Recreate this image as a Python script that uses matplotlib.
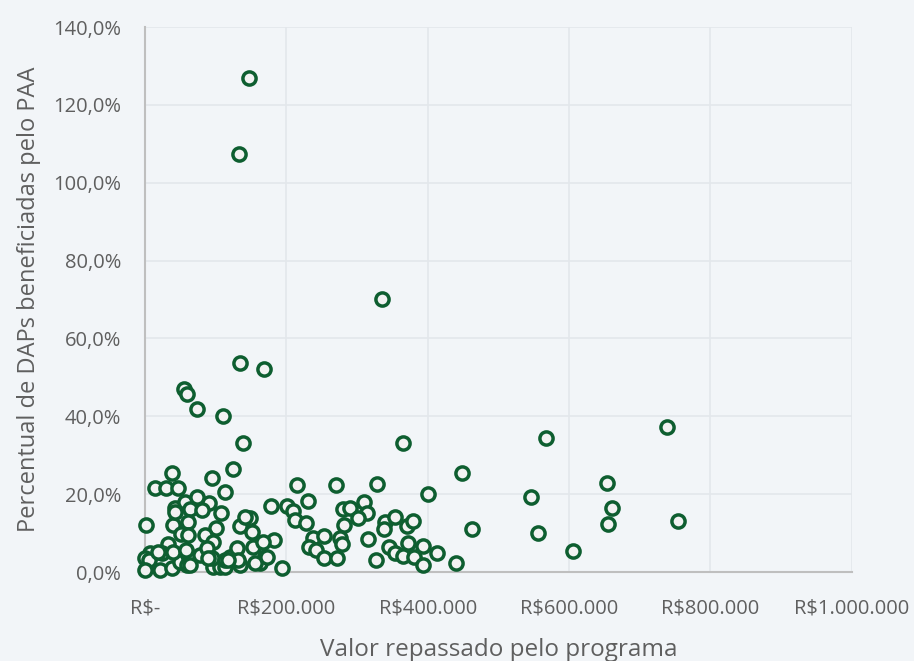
import matplotlib.pyplot as plt
from matplotlib.ticker import FuncFormatter

# valor repassado (R$ mil) e percentual de DAPs beneficiadas (%)
valor_mil = [
    147.1, 133.0, 335.2, 134.4, 168.3, 55.2, 59.4, 73.5, 110.3, 138.6,
    364.9, 567.2, 738.3, 124.5, 94.8, 38.2, 448.4, 14.1, 29.7, 46.7,
    653.5, 546.0, 400.3, 328.1, 270.2, 215.0, 178.2, 200.8, 209.3, 230.5,
    212.2, 227.7, 280.1, 290.0, 309.8, 314.0, 301.3, 281.5, 339.5, 353.6,
    338.0, 370.6, 379.1, 462.5, 182.5, 169.7, 162.7, 193.8, 237.6, 253.2,
    232.0, 241.9, 275.8, 278.6, 253.2, 271.6, 315.4, 326.7, 345.1, 353.6,
    364.9, 372.0, 380.5, 393.2, 393.2, 413.0, 439.9, 113.2, 1.4, 42.4,
    56.6, 73.5, 90.5, 63.6, 80.6, 107.5, 39.6, 60.8, 134.4, 148.5,
    151.3, 50.9, 60.8, 100.4, 84.9, 96.2, 32.5, 24.0, 7.1, 0.5,
    5.7, 0.5, 21.2, 38.2, 49.5, 60.8, 59.4, 77.8, 87.7, 96.2,
    106.1, 113.2, 94.8, 120.2, 130.1, 134.4, 152.8, 166.9, 155.6, 660.5,
    654.9, 753.9, 555.9, 605.4, 141.4, 42.4, 18.4, 39.6, 58.0, 89.1,
    113.2, 131.5, 117.4, 63.6, 172.6,
]
percentual = [
    126.9, 107.4, 70.1, 53.7, 52.1, 46.9, 45.7, 41.9, 40.1, 33.1,
    33.1, 34.4, 37.2, 26.5, 24.1, 25.4, 25.4, 21.6, 21.6, 21.6,
    22.9, 19.3, 20.0, 22.6, 22.3, 22.3, 17.0, 17.0, 15.7, 18.2,
    13.4, 12.6, 16.2, 16.4, 18.0, 15.2, 13.9, 12.1, 12.8, 14.1,
    11.0, 11.8, 13.1, 11.0, 8.2, 3.9, 2.3, 1.0, 8.7, 9.2,
    6.4, 5.7, 8.7, 7.2, 3.6, 3.6, 8.5, 3.1, 6.4, 4.9,
    4.1, 7.4, 3.9, 6.7, 1.8, 4.9, 2.3, 20.5, 12.1, 16.4,
    18.0, 19.3, 17.7, 16.2, 15.9, 15.2, 12.1, 12.8, 11.8, 13.9,
    10.3, 9.8, 9.5, 11.3, 9.5, 7.7, 7.2, 4.9, 4.9, 3.6,
    3.1, 0.5, 0.5, 1.0, 2.6, 4.4, 1.8, 4.4, 6.2, 1.3,
    1.3, 1.3, 3.6, 3.9, 6.2, 1.8, 6.4, 7.7, 2.3, 16.4,
    12.3, 13.1, 10.0, 5.4, 14.1, 15.4, 5.1, 5.1, 5.7, 3.6,
    3.1, 3.1, 3.1, 1.8, 3.9,
]

x_ticks = [0, 200000, 400000, 600000, 800000, 1000000]
y_ticks = [0, 20, 40, 60, 80, 100, 120, 140]

bg = '#F2F5F8'
verde = '#0E5E30'
cinza = '#5F5F5F'

plt.rcParams['font.family'] = ['Open Sans', 'DejaVu Sans']

fig = plt.figure(figsize=(9.14, 6.61), dpi=100, facecolor=bg)
ax = fig.add_axes([0.1586, 0.1346, 0.932 - 0.1586, 0.959 - 0.1346], facecolor=bg)

xs = [v * 1000 for v in valor_mil]
ax.scatter(xs, percentual, s=90, facecolor='#F2F2F2', edgecolor=verde,
           linewidth=2.5, zorder=3, clip_on=False)

ax.set_xlim(0, 1000000)
ax.set_ylim(0, 140)
ax.set_xticks(x_ticks)
ax.set_yticks(y_ticks)


def fmt_real(v, pos):
    if v == 0:
        return 'R$-'
    return 'R$' + f'{int(v):,}'.replace(',', '.')


def fmt_pct(v, pos):
    return f'{v:.1f}%'.replace('.', ',')


ax.xaxis.set_major_formatter(FuncFormatter(fmt_real))
ax.yaxis.set_major_formatter(FuncFormatter(fmt_pct))

ax.grid(True, color='#E3E7EB', linewidth=1.2, zorder=0)
ax.set_axisbelow(True)
for s in ['top', 'right']:
    ax.spines[s].set_visible(False)
for s in ['left', 'bottom']:
    ax.spines[s].set_color('#BFBFBF')
    ax.spines[s].set_linewidth(1.5)

ax.tick_params(axis='both', length=0, labelsize=14.5, colors=cinza)
ax.tick_params(axis='y', pad=17)
ax.tick_params(axis='x', pad=19)

ax.set_xlabel('Valor repassado pelo programa', fontsize=17.5, color=cinza, labelpad=14)
ax.set_ylabel('Percentual de DAPs beneficiadas pelo PAA', fontsize=17, color=cinza, labelpad=9)

fig.savefig('out.png', dpi=100, facecolor=bg)
